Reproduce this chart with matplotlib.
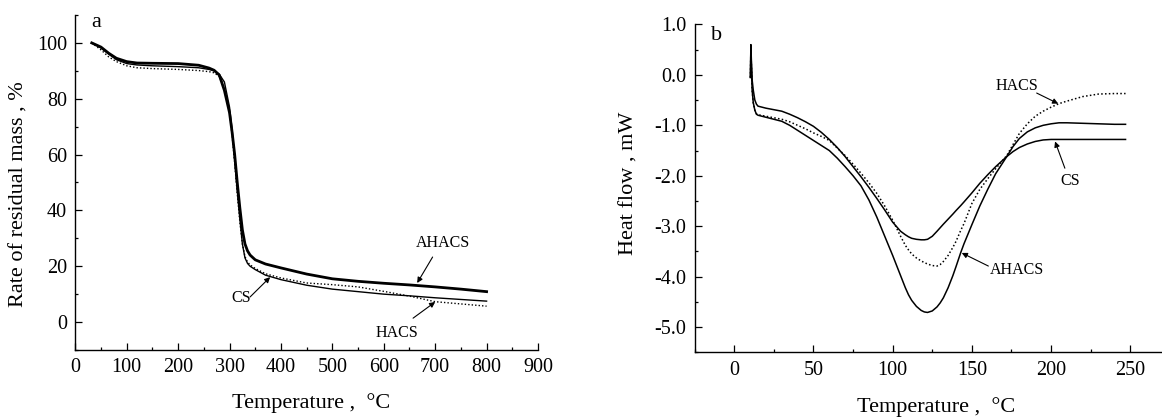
#!/usr/bin/env python3

import matplotlib
matplotlib.use("Agg")
import matplotlib.pyplot as plt
from matplotlib.ticker import MultipleLocator, FormatStrFormatter

# --- panel a: TGA ---
tga_temp = [32, 50, 65, 80, 100, 120, 150, 200, 240, 260, 270, 280, 290, 300,
            305, 310, 315, 320, 325, 330, 335, 340, 350, 370, 400, 450, 500,
            550, 600, 650, 700, 750, 800]
tga_ahacs = [100, 98.5, 96.3, 94.5, 93.3, 92.8, 92.7, 92.6, 92.0, 91.0, 90.2,
             88.5, 83, 75, 68, 60, 50, 41, 33, 28, 25.5, 24, 22.3, 20.8, 19.4,
             17.2, 15.5, 14.6, 13.9, 13.3, 12.6, 11.8, 10.9]
tga_cs = [100, 98.2, 96, 94, 92.6, 92.1, 91.8, 91.5, 91.1, 90.5, 90, 88.8, 86,
          77, 69, 58, 47, 37, 28, 23, 21, 20, 18.8, 16.8, 15.2, 13.2, 11.8,
          10.9, 10.0, 9.4, 8.7, 8.1, 7.5]
tga_hacs = [100, 97.5, 95, 93.3, 91.8, 91.1, 90.8, 90.5, 90.1, 89.7, 89.3, 88,
            84, 75, 67, 57, 46, 36, 28, 23.5, 21.5, 20.5, 19.2, 17.3, 15.8, 14,
            13.4, 12.6, 11, 9.3, 7.3, 6.5, 5.7]

# --- panel b: DSC ---
dsc_temp = [10.2, 10.5, 10.8, 11.3, 12, 13, 14, 15,
            20, 25, 30, 35, 40, 45, 50, 55, 60, 65, 70, 75, 80, 85, 90, 95, 100,
            105, 108, 110, 112, 115, 118, 120, 122, 125, 128, 130, 132, 135,
            138, 140, 143, 145, 150, 155, 160, 165,
            172, 176, 180, 185, 190, 195, 200, 205, 210, 220, 230, 240, 247]
dsc_cs = [-0.05, 0.6, 0.3, -0.1, -0.3, -0.5, -0.58, -0.62,
          -0.66, -0.69, -0.72, -0.78, -0.85, -0.93, -1.02, -1.14, -1.28, -1.44,
          -1.62, -1.82, -2.02, -2.23, -2.45, -2.68, -2.92,
          -3.1, -3.17, -3.21, -3.24, -3.26, -3.27, -3.27, -3.26, -3.2, -3.1,
          -3.03, -2.96, -2.86, -2.76, -2.69, -2.59, -2.52, -2.34, -2.15, -1.98,
          -1.82,
          -1.62, -1.52, -1.44, -1.37, -1.32, -1.29, -1.28, -1.28, -1.28, -1.28,
          -1.28, -1.28, -1.28]
dsc_ahacs = [-0.05, 0.55, 0.2, -0.3, -0.55, -0.7, -0.78, -0.8,
             -0.84, -0.88, -0.92, -1.0, -1.1, -1.2, -1.3, -1.4, -1.5, -1.65,
             -1.82, -2.0, -2.2, -2.48, -2.82, -3.2, -3.58,
             -3.98, -4.22, -4.36, -4.47, -4.59, -4.67, -4.7, -4.71, -4.68, -4.6,
             -4.52, -4.42, -4.22, -3.98, -3.8, -3.52, -3.35, -2.97, -2.6, -2.27,
             -1.96,
             -1.62, -1.42, -1.26, -1.13, -1.05, -1.0, -0.97, -0.95, -0.95,
             -0.96, -0.97, -0.98, -0.98]
dsc_hacs = [-0.05, 0.5, 0.2, -0.3, -0.55, -0.7, -0.77, -0.79,
            -0.82, -0.85, -0.88, -0.93, -1.0, -1.07, -1.15, -1.22, -1.3, -1.45,
            -1.6, -1.77, -1.95, -2.14, -2.35, -2.6, -2.88,
            -3.2, -3.38, -3.47, -3.55, -3.63, -3.69, -3.72, -3.75, -3.78, -3.79,
            -3.76, -3.7, -3.58, -3.42, -3.3, -3.08, -2.95, -2.55, -2.27, -2.06,
            -1.86,
            -1.6, -1.38, -1.16, -0.97, -0.82, -0.72, -0.64, -0.57, -0.52, -0.43,
            -0.38, -0.37, -0.37]

plt.rcParams['font.family'] = ['Liberation Serif', 'DejaVu Serif']
plt.rcParams['axes.unicode_minus'] = False

TICK_FS = 14.5
LABEL_FS = 16
NOTE_FS = 11.5


def style_axes(ax):
    ax.spines['top'].set_visible(False)
    ax.spines['right'].set_visible(False)
    ax.tick_params(which='both', direction='in', labelsize=TICK_FS, width=0.9)
    ax.tick_params(which='major', length=5, pad=6)
    ax.tick_params(which='minor', length=2.5)
    for s in ('left', 'bottom'):
        ax.spines[s].set_linewidth(1.0)


def note(ax, text, pos, tail, tip):
    ax.text(pos[0], pos[1], text, fontsize=NOTE_FS, ha='center', va='center')
    ax.annotate('', xy=tip, xytext=tail,
                arrowprops=dict(arrowstyle='-|>', lw=0.8, color='black',
                                mutation_scale=8, shrinkA=0, shrinkB=0))


def panel_a(fig):
    ax = fig.add_axes([0.0648, 0.1667, 0.3982, 0.7976])
    ax.plot(tga_temp, tga_cs, color='black', lw=1.0)
    ax.plot(tga_temp, tga_hacs, color='black', lw=1.0, ls=(0, (1, 1.5)))
    ax.plot(tga_temp, tga_ahacs, color='black', lw=2.0)
    ax.set_xlim(0, 900)
    ax.set_ylim(-10, 110)
    ax.xaxis.set_major_locator(MultipleLocator(100))
    ax.xaxis.set_minor_locator(MultipleLocator(50))
    ax.yaxis.set_major_locator(MultipleLocator(20))
    ax.yaxis.set_minor_locator(MultipleLocator(10))
    ax.set_yticks([0, 20, 40, 60, 80, 100])
    style_axes(ax)
    ax.set_xlabel('Temperature ,  \u00b0C', fontsize=LABEL_FS)
    ax.set_ylabel('Rate of residual mass , %', fontsize=LABEL_FS)
    ax.xaxis.set_label_coords(0.51, -0.128)
    ax.yaxis.set_label_coords(-0.1015, 0.466)
    ax.text(0.045, 0.979, 'a', transform=ax.transAxes, fontsize=LABEL_FS,
            ha='center', va='center')
    note(ax, 'AHACS', (716, 28.3), (695, 23.3), (665, 14))
    note(ax, 'HACS', (626, -3.9), (657, 1.4), (700, 7.2))
    note(ax, 'CS', (322, 8.6), (340, 9), (379, 16.1))


def panel_b(fig):
    ax = fig.add_axes([0.5978, 0.1612, 0.409, 0.7806])
    ax.plot(dsc_temp, dsc_cs, color='black', lw=1.1)
    ax.plot(dsc_temp, dsc_ahacs, color='black', lw=1.1)
    ax.plot(dsc_temp, dsc_hacs, color='black', lw=1.1, ls=(0, (1, 1.5)))
    ax.set_xlim(-25, 275)
    ax.set_ylim(-5.5, 1.0)
    ax.xaxis.set_major_locator(MultipleLocator(50))
    ax.xaxis.set_minor_locator(MultipleLocator(25))
    ax.yaxis.set_major_locator(MultipleLocator(1.0))
    ax.yaxis.set_minor_locator(MultipleLocator(0.5))
    ax.yaxis.set_major_formatter(FormatStrFormatter('%.1f'))
    ax.set_xticks([0, 50, 100, 150, 200, 250])
    ax.set_yticks([1.0, 0.0, -1.0, -2.0, -3.0, -4.0, -5.0])
    style_axes(ax)
    ax.set_xlabel('Temperature ,  \u00b0C', fontsize=LABEL_FS)
    ax.set_ylabel('Heat flow , mW', fontsize=LABEL_FS)
    ax.xaxis.set_label_coords(0.508, -0.136)
    ax.yaxis.set_label_coords(-0.117, 0.516)
    ax.text(0.047, 0.965, 'b', transform=ax.transAxes, fontsize=LABEL_FS,
            ha='center', va='center')
    note(ax, 'HACS', (178.3, -0.23), (190.9, -0.36), (204.5, -0.57))
    note(ax, 'CS', (211.9, -2.11), (208.7, -1.85), (202.5, -1.32))
    note(ax, 'AHACS', (178.3, -3.86), (160.4, -3.79), (143.6, -3.53))


def main():
    fig = plt.figure(figsize=(11.62, 4.2), dpi=100)
    panel_a(fig)
    panel_b(fig)
    fig.savefig('out.png', dpi=100)


if __name__ == "__main__":
    main()
